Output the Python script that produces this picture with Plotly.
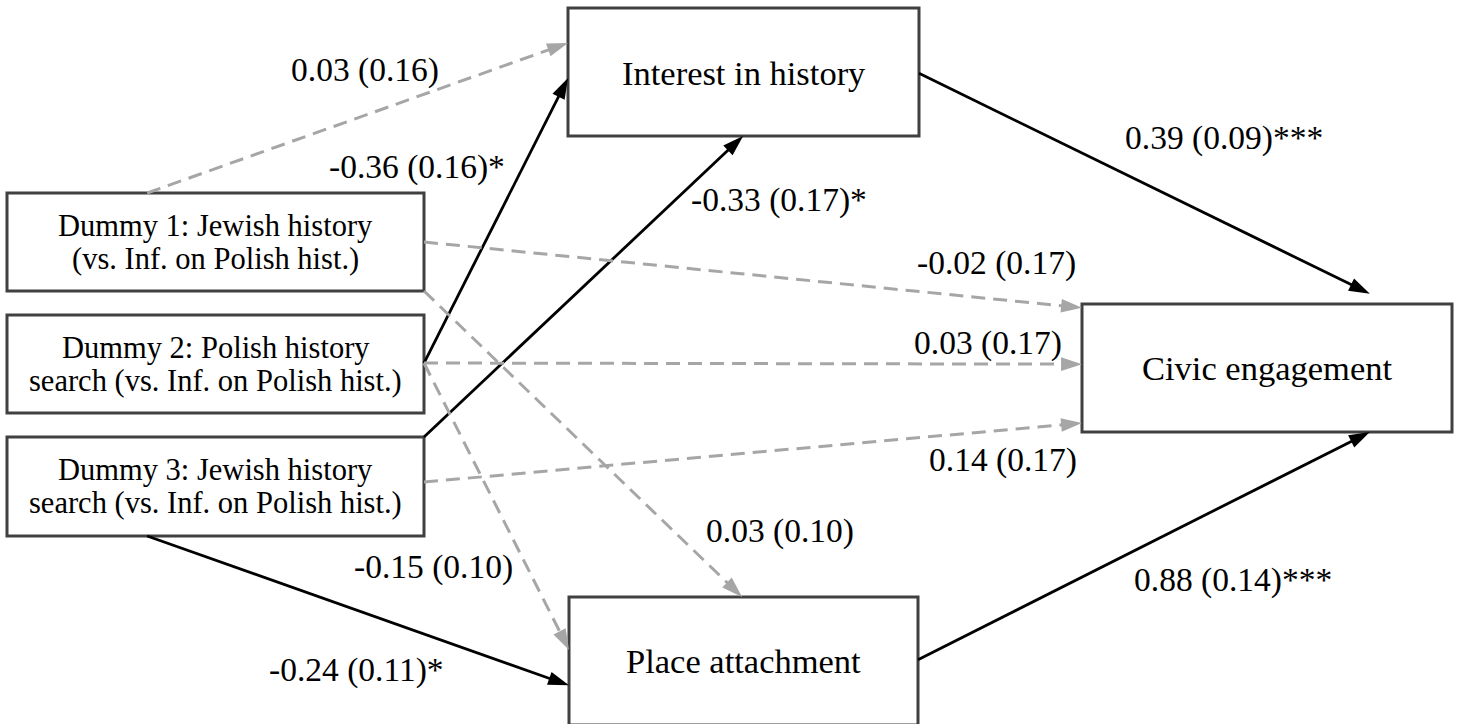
import plotly.graph_objects as go

# ---- model content -------------------------------------------------------
node_ids = ["d1", "d2", "d3", "interest", "place", "civic"]
node_lines = [
    ["Dummy 1: Jewish history", "(vs. Inf. on Polish hist.)"],
    ["Dummy 2: Polish history", "search (vs. Inf. on Polish hist.)"],
    ["Dummy 3: Jewish history", "search (vs. Inf. on Polish hist.)"],
    ["Interest in history"],
    ["Place attachment"],
    ["Civic engagement"],
]

# path estimates: source, target, coefficient, standard error, significance
edge_source = ["d1", "d2", "d3", "d1", "d2", "d3", "d1", "d2", "d3", "interest", "place"]
edge_target = ["interest", "interest", "interest", "civic", "civic", "civic",
               "place", "place", "place", "civic", "civic"]
edge_coef = [0.03, -0.36, -0.33, -0.02, 0.03, 0.14, 0.03, -0.15, -0.24, 0.39, 0.88]
edge_se = [0.16, 0.16, 0.17, 0.17, 0.17, 0.17, 0.10, 0.10, 0.11, 0.09, 0.14]
edge_sig = ["", "*", "*", "", "", "", "", "", "*", "***", "***"]

# ---- diagram layout (pixels, y downward) ---------------------------------
W, H = 1458, 724
boxes = {
    "d1": (7, 193, 424, 291),
    "d2": (7, 315, 424, 413),
    "d3": (7, 437, 424, 536),
    "interest": (568, 8, 919, 136),
    "place": (569, 597, 918, 725),
    "civic": (1082, 304, 1452, 432),
}
# attachment points as fractions of each box (fx, fy)
edge_from = [(0.336, 0.0), (1.0, 0.49), (1.0, 0.0), (1.0, 0.5), (1.0, 0.49), (1.0, 0.455),
             (1.0, 1.0), (1.0, 0.49), (0.336, 1.0), (1.0, 0.51), (1.0, 0.49)]
edge_to = [(0.0, 0.273), (0.0, 0.547), (0.499, 1.0), (0.0, 0.03), (0.0, 0.47), (0.0, 0.93),
           (0.496, 0.0), (0.0, 0.414), (0.0, 0.69), (0.778, -0.08), (0.778, 1.0)]
label_pos = [(365, 70), (417, 167), (779, 200), (996, 263), (988, 343), (1003, 460),
             (780, 531), (433, 567), (356, 670), (1224, 138), (1233, 580)]

FONT = "Liberation Serif"
SIG_COLOR, NS_COLOR = "#000000", "#a6a6a6"
BOX_COLOR = "#404040"


def anchor(node, fx, fy):
    x0, y0, x1, y1 = boxes[node]
    return x0 + fx * (x1 - x0), y0 + fy * (y1 - y0)


fig = go.Figure()
shapes, annotations = [], []

# paths
for src, tgt, b, se, sig, fa, ta, lp in zip(edge_source, edge_target, edge_coef, edge_se,
                                              edge_sig, edge_from, edge_to, label_pos):
    xa, ya = anchor(src, *fa)
    xb, yb = anchor(tgt, *ta)
    significant = sig != ""
    color = SIG_COLOR if significant else NS_COLOR
    fig.add_trace(go.Scatter(
        x=[xa, xb], y=[ya, yb], mode="lines+markers",
        line=dict(color=color, width=2.8 if significant else 3,
                  dash="solid" if significant else "14px,8px"),
        marker=dict(symbol=["circle", "arrow"], size=[0, 22], angleref="previous",
                    color=color, opacity=1, line=dict(width=0, color=color)),
        hoverinfo="skip", showlegend=False,
    ))
    annotations.append(dict(
        x=lp[0], y=lp[1], xref="x", yref="y", showarrow=False,
        text=f"{b:.2f} ({se:.2f}){sig}",
        font=dict(family=FONT, size=33.5, color="#000000"),
        xanchor="center", yanchor="middle",
    ))

# variable boxes
for nid, lines in zip(node_ids, node_lines):
    x0, y0, x1, y1 = boxes[nid]
    shapes.append(dict(type="rect", xref="x", yref="y", x0=x0, y0=y0, x1=x1, y1=y1,
                       line=dict(color=BOX_COLOR, width=3), fillcolor="white", layer="below"))
    cx = (x0 + x1) / 2
    if len(lines) == 1:
        cy = 73 if nid == "interest" else (y0 + y1) / 2
        annotations.append(dict(x=cx, y=cy, xref="x", yref="y", showarrow=False,
                                text=lines[0], font=dict(family=FONT, size=34.5, color="#000000"),
                                xanchor="center", yanchor="middle"))
    else:
        cy = (y0 + y1) / 2
        step = 33
        for i, line in enumerate(lines):
            annotations.append(dict(x=cx, y=cy + (i - (len(lines) - 1) / 2) * step,
                                    xref="x", yref="y", showarrow=False, text=line,
                                    font=dict(family=FONT, size=30.5, color="#000000"),
                                    xanchor="center", yanchor="middle"))

fig.update_layout(
    width=W, height=H, margin=dict(l=0, r=0, t=0, b=0),
    paper_bgcolor="white", plot_bgcolor="white",
    xaxis=dict(range=[0, W], visible=False, fixedrange=True),
    yaxis=dict(range=[H, 0], visible=False, fixedrange=True),
    shapes=shapes, annotations=annotations,
)

fig.write_html("out.html")
